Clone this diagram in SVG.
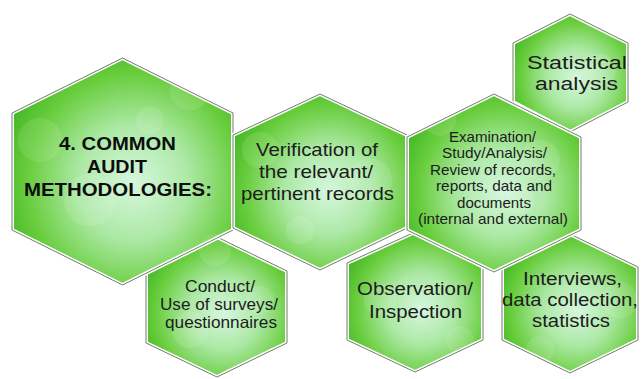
<svg xmlns="http://www.w3.org/2000/svg" width="641" height="379" viewBox="0 0 641 379">
<defs>
<radialGradient id="g" cx="0.55" cy="0.55" r="0.62">
<stop offset="0" stop-color="#d6f7de"/>
<stop offset="0.4" stop-color="#ade9a6"/>
<stop offset="0.78" stop-color="#68cd3c"/>
<stop offset="1" stop-color="#45b828"/>
</radialGradient>
<pattern id="bokeh" patternUnits="userSpaceOnUse" width="641" height="379">
<g fill="#ffffff" fill-opacity="0.1">
<circle cx="40" cy="140" r="22"/><circle cx="90" cy="200" r="26"/><circle cx="190" cy="90" r="20"/>
<circle cx="215" cy="250" r="16"/><circle cx="260" cy="150" r="18"/><circle cx="370" cy="180" r="22"/>
<circle cx="300" cy="230" r="14"/><circle cx="440" cy="120" r="16"/><circle cx="540" cy="160" r="20"/>
<circle cx="520" cy="200" r="14"/><circle cx="600" cy="70" r="16"/><circle cx="190" cy="330" r="18"/>
<circle cx="260" cy="300" r="14"/><circle cx="380" cy="300" r="16"/><circle cx="460" cy="340" r="14"/>
<circle cx="620" cy="300" r="18"/><circle cx="540" cy="350" r="14"/><circle cx="150" cy="120" r="14"/>
</g>
</pattern>
<style>
.hx{fill:url(#g);stroke:#ffffff;stroke-width:4;stroke-linejoin:miter}
.bk{fill:url(#bokeh);stroke:none}
.ed{fill:none;stroke:#6f7d68;stroke-width:1}
.t{font-family:"Liberation Sans",Arial,sans-serif;fill:#1c1c1c}
.b{font-weight:bold;fill:#0d0d0d}
</style>
</defs>

<g id="statistical">
<polygon class="hx" points="570,14 628,43 628,102 570,132 513,102 513,43"/>
<polygon class="bk" points="570,14 628,43 628,102 570,132 513,102 513,43"/>
<polygon class="ed" points="570,14 628,43 628,102 570,132 513,102 513,43"/>
<text class="t" font-size="17.5" x="527" y="69" textLength="100" lengthAdjust="spacingAndGlyphs">Statistical</text>
<text class="t" font-size="17.5" x="535" y="90" textLength="83" lengthAdjust="spacingAndGlyphs">analysis</text>
</g>

<g id="conduct">
<polygon class="hx" points="217,237 287,271 287,343 217,377 146,343 146,271"/>
<polygon class="bk" points="217,237 287,271 287,343 217,377 146,343 146,271"/>
<polygon class="ed" points="217,237 287,271 287,343 217,377 146,343 146,271"/>
<text class="t" font-size="16.5" x="185" y="292" textLength="70" lengthAdjust="spacingAndGlyphs">Conduct/</text>
<text class="t" font-size="16.5" x="160" y="310" textLength="118" lengthAdjust="spacingAndGlyphs">Use of surveys/</text>
<text class="t" font-size="16.5" x="165" y="328" textLength="112" lengthAdjust="spacingAndGlyphs">questionnaires</text>
</g>

<g id="observation">
<polygon class="hx" points="415,232 483,263 483,340 415,372 347,340 347,263"/>
<polygon class="bk" points="415,232 483,263 483,340 415,372 347,340 347,263"/>
<polygon class="ed" points="415,232 483,263 483,340 415,372 347,340 347,263"/>
<text class="t" font-size="17.5" x="357" y="295" textLength="116" lengthAdjust="spacingAndGlyphs">Observation/</text>
<text class="t" font-size="17.5" x="369" y="318" textLength="93" lengthAdjust="spacingAndGlyphs">Inspection</text>
</g>

<g id="interviews">
<polygon class="hx" points="570,234 638,267 638,340 570,373 502,340 502,267"/>
<polygon class="bk" points="570,234 638,267 638,340 570,373 502,340 502,267"/>
<polygon class="ed" points="570,234 638,267 638,340 570,373 502,340 502,267"/>
<text class="t" font-size="17.5" x="523" y="285" textLength="99" lengthAdjust="spacingAndGlyphs">Interviews,</text>
<text class="t" font-size="17.5" x="502" y="306" textLength="136" lengthAdjust="spacingAndGlyphs">data collection,</text>
<text class="t" font-size="17.5" x="532" y="327" textLength="78" lengthAdjust="spacingAndGlyphs">statistics</text>
</g>

<g id="main">
<polygon class="hx" points="122.5,58 233,113 233,230 122.5,285 12,230 12,113"/>
<polygon class="bk" points="122.5,58 233,113 233,230 122.5,285 12,230 12,113"/>
<polygon class="ed" points="122.5,58 233,113 233,230 122.5,285 12,230 12,113"/>
<text class="t b" font-size="17.5" x="59" y="150" textLength="117" lengthAdjust="spacingAndGlyphs">4. COMMON</text>
<text class="t b" font-size="17.5" x="87" y="173" textLength="60" lengthAdjust="spacingAndGlyphs">AUDIT</text>
<text class="t b" font-size="17.5" x="24" y="196" textLength="188" lengthAdjust="spacingAndGlyphs">METHODOLOGIES:</text>
</g>

<g id="verification">
<polygon class="hx" points="320,94 407,135 407,228 320,270 233,228 233,135"/>
<polygon class="bk" points="320,94 407,135 407,228 320,270 233,228 233,135"/>
<polygon class="ed" points="320,94 407,135 407,228 320,270 233,228 233,135"/>
<text class="t" font-size="18.5" x="256" y="156" textLength="122" lengthAdjust="spacingAndGlyphs">Verification of</text>
<text class="t" font-size="18.5" x="259" y="178" textLength="114" lengthAdjust="spacingAndGlyphs">the relevant/</text>
<text class="t" font-size="18.5" x="241" y="200" textLength="153" lengthAdjust="spacingAndGlyphs">pertinent records</text>
</g>

<g id="examination">
<polygon class="hx" points="494,94 581,137 581,230 494,272 407,230 407,137"/>
<polygon class="bk" points="494,94 581,137 581,230 494,272 407,230 407,137"/>
<polygon class="ed" points="494,94 581,137 581,230 494,272 407,230 407,137"/>
<text class="t" font-size="14.5" x="449" y="142" textLength="87" lengthAdjust="spacingAndGlyphs">Examination/</text>
<text class="t" font-size="14.5" x="442" y="158" textLength="105" lengthAdjust="spacingAndGlyphs">Study/Analysis/</text>
<text class="t" font-size="14.5" x="430" y="175" textLength="126" lengthAdjust="spacingAndGlyphs">Review of records,</text>
<text class="t" font-size="14.5" x="436" y="191" textLength="116" lengthAdjust="spacingAndGlyphs">reports, data and</text>
<text class="t" font-size="14.5" x="457" y="208" textLength="74" lengthAdjust="spacingAndGlyphs">documents</text>
<text class="t" font-size="14.5" x="418" y="224" textLength="150" lengthAdjust="spacingAndGlyphs">(internal and external)</text>
</g>

<g id="connectors"/>
</svg>
